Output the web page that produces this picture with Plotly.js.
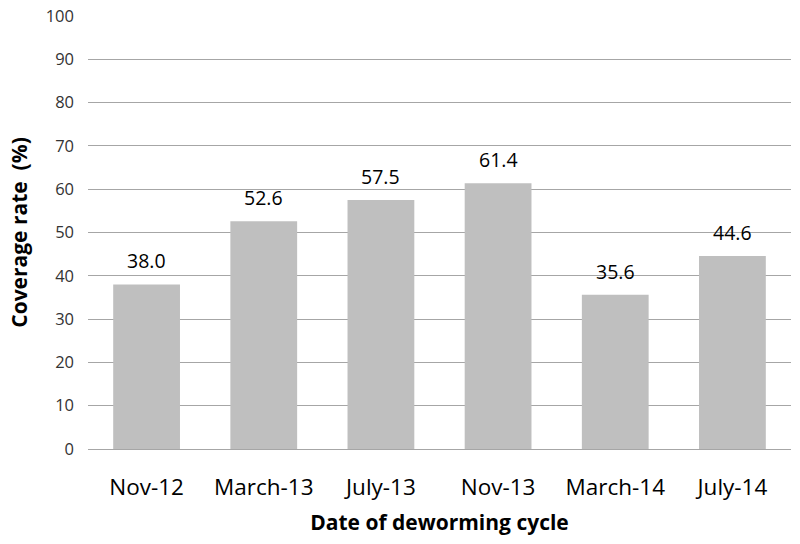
<!DOCTYPE html>
<html>
<head>
<meta charset="utf-8">
<script src="https://cdn.plot.ly/plotly-3.0.1.min.js"></script>
<style>
  body { margin: 0; background: #fff; }
  #chart { width: 800px; height: 544px; }
</style>
</head>
<body>
<div id="chart"></div>
<script>
var cycles = ['Nov-12', 'March-13', 'July-13', 'Nov-13', 'March-14', 'July-14'];
var coverage = [38.0, 52.6, 57.5, 61.4, 35.6, 44.6];
var yTicks = [0, 10, 20, 30, 40, 50, 60, 70, 80, 90, 100];

var trace = {
  type: 'bar',
  x: cycles,
  y: coverage,
  marker: { color: '#bfbfbf' },
  hoverinfo: 'none'
};

// value labels sit a little above each bar
var labels = cycles.map(function (c, i) {
  return {
    x: c, y: coverage[i], text: coverage[i].toFixed(1),
    showarrow: false, yanchor: 'bottom', yshift: 8,
    font: { family: 'Open Sans, sans-serif', size: 19.5, color: '#000' }
  };
});

var layout = {
  width: 800,
  height: 544,
  margin: { l: 88, r: 9, t: 16, b: 95 },
  paper_bgcolor: '#fff',
  plot_bgcolor: '#fff',
  bargap: 0.43,
  showlegend: false,
  font: { family: 'Open Sans, sans-serif', color: '#000' },
  annotations: labels,
  xaxis: {
    tickfont: { size: 22.5 },
    ticks: '',
    showline: false,
    ticklabelstandoff: 22,
    title: { text: '<b>Date of deworming cycle</b>', font: { size: 21 }, standoff: 14 }
  },
  yaxis: {
    range: [0, 100],
    tickvals: yTicks,
    tickfont: { size: 16.5, color: '#333' },
    gridcolor: '#a6a6a6',
    zeroline: true,
    zerolinecolor: '#a6a6a6',
    ticks: '',
    ticklabelstandoff: 13,
    title: { text: '<b>Coverage rate&nbsp;&nbsp;(%)</b>', font: { size: 21 }, standoff: 12 }
  }
};

Plotly.newPlot('chart', [trace], layout, { displayModeBar: false, staticPlot: true });
</script>
</body>
</html>
